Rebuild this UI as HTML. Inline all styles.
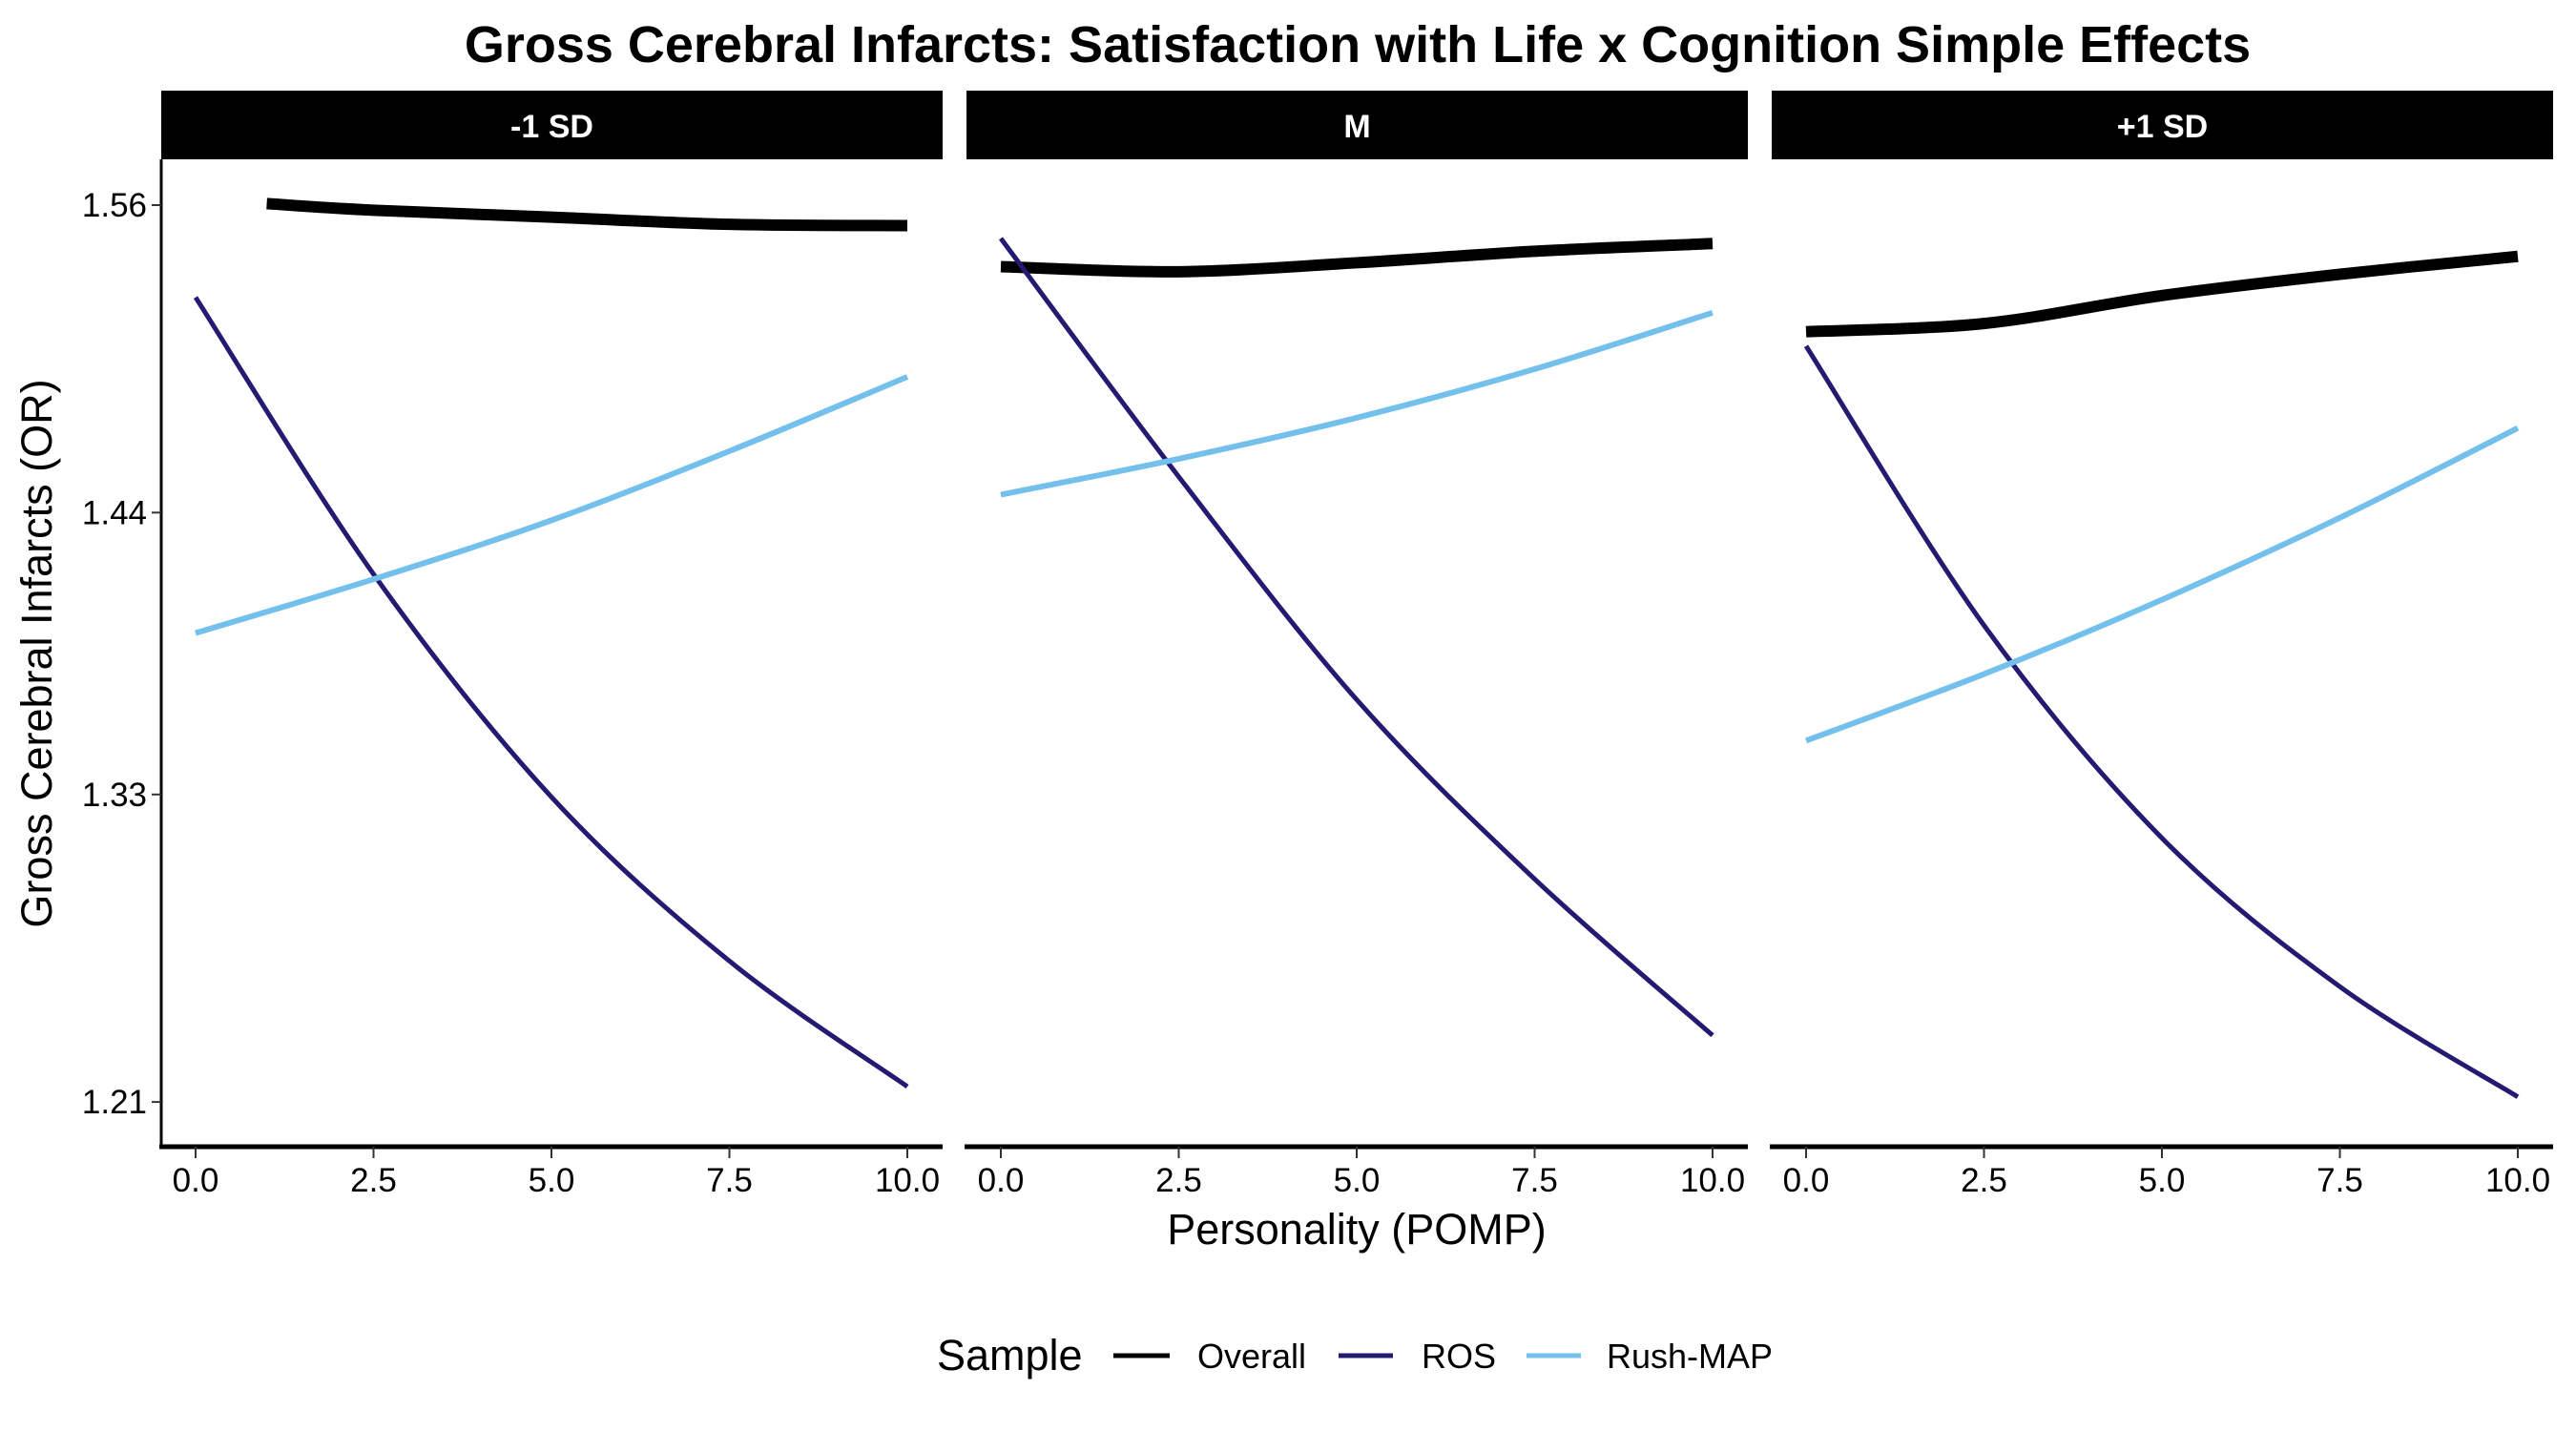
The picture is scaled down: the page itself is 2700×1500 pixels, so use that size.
<!DOCTYPE html>
<html><head><meta charset="utf-8"><style>
body{margin:0;background:#fff}
svg{display:block;font-family:"Liberation Sans",Arial,sans-serif}
</style></head><body>
<svg id="chart" width="2700" height="1500" viewBox="0 0 2700 1500">
<text x="1423" y="65" text-anchor="middle" font-size="54" font-weight="bold">Gross Cerebral Infarcts: Satisfaction with Life x Cognition Simple Effects</text>
<text transform="translate(54,685) rotate(-90)" text-anchor="middle" font-size="45">Gross Cerebral Infarcts (OR)</text>
<text x="1422" y="1304" text-anchor="middle" font-size="45">Personality (POMP)</text>
<g>
<text x="982" y="1436" font-size="45">Sample</text>
<line x1="1167" y1="1421" x2="1226" y2="1421" stroke="#000" stroke-width="5"/>
<text x="1255" y="1434" font-size="36">Overall</text>
<line x1="1403" y1="1421" x2="1460" y2="1421" stroke="#231a72" stroke-width="5"/>
<text x="1490" y="1434" font-size="36">ROS</text>
<line x1="1600" y1="1421" x2="1657" y2="1421" stroke="#74c0ec" stroke-width="5"/>
<text x="1684" y="1434" font-size="36">Rush-MAP</text>
</g>
<g id="panels"></g>
</svg>
<script>
const panelLabels = ["-1 SD", "M", "+1 SD"];
const xTicks = [0, 2.5, 5, 7.5, 10];
const xTickLabels = ["0.0", "2.5", "5.0", "7.5", "10.0"];
const yTicks = [1.21, 1.33, 1.44, 1.56];
const yTickLabels = ["1.21", "1.33", "1.44", "1.56"];
const overallX = [[1, 2.5, 5, 7.5, 10], [0, 2.5, 5, 7.5, 10], [0, 2.5, 5, 7.5, 10]];
const overallY = [[1.5606, 1.558, 1.5553, 1.5525, 1.552], [1.536, 1.534, 1.5375, 1.542, 1.545], [1.5106, 1.5138, 1.5247, 1.533, 1.540]];
const rosX = [0, 2.5, 5, 7.5, 10];
const rosY = [[1.524, 1.416, 1.329, 1.265, 1.216], [1.547, 1.454, 1.367, 1.297, 1.236], [1.505, 1.396, 1.313, 1.255, 1.212]];
const rushX = [0, 2.5, 5, 7.5, 10];
const rushY = [[1.393, 1.414, 1.437, 1.464, 1.493], [1.447, 1.461, 1.477, 1.496, 1.518], [1.351, 1.377, 1.406, 1.438, 1.473]];

const NS = "http://www.w3.org/2000/svg";
const panelLeft = [169, 1013, 1857];
const panelW = 819, plotTop = 167, plotBot = 1202;
function xs(p, v) { return panelLeft[p] + 36 + v * 74.6; }
function ys(v) { return 215 + (1.56 - v) * 2686; }
function mk(tag, attrs, parent) { const e = document.createElementNS(NS, tag); for (const k in attrs) e.setAttribute(k, attrs[k]); parent.appendChild(e); return e; }
function smooth(pts) {
  let d = "M" + pts[0][0] + "," + pts[0][1];
  for (let i = 0; i < pts.length - 1; i++) {
    const p0 = pts[Math.max(0, i - 1)], p1 = pts[i], p2 = pts[i + 1], p3 = pts[Math.min(pts.length - 1, i + 2)];
    const c1 = [p1[0] + (p2[0] - p0[0]) / 6, p1[1] + (p2[1] - p0[1]) / 6];
    const c2 = [p2[0] - (p3[0] - p1[0]) / 6, p2[1] - (p3[1] - p1[1]) / 6];
    d += " C" + c1[0] + "," + c1[1] + " " + c2[0] + "," + c2[1] + " " + p2[0] + "," + p2[1];
  }
  return d;
}
const root = document.getElementById("panels");
for (let p = 0; p < 3; p++) {
  const g = mk("g", {}, root);
  
  
  const L = panelLeft[p];
  const strip = mk("rect", { x: L, y: 95, width: panelW, height: 72, fill: "#000" }, g);
  
  
  const st = mk("text", { x: L + panelW / 2, y: 144, "text-anchor": "middle", "font-size": 34, "font-weight": "bold", fill: "#fff" }, g);
  st.textContent = panelLabels[p];
  
  
  const xa = mk("line", { x1: L - 2, y1: plotBot, x2: L + panelW, y2: plotBot, stroke: "#000", "stroke-width": 5 }, g);
  
  
  xTicks.forEach((t, i) => {
    const tk = mk("line", { x1: xs(p, t), y1: plotBot, x2: xs(p, t), y2: plotBot + 12, stroke: "#333", "stroke-width": 2 }, g);
    
    
    const tl = mk("text", { x: xs(p, t), y: 1249, "text-anchor": "middle", "font-size": 35, fill: "#000" }, g);
    tl.textContent = xTickLabels[i];
    
    
  });
  if (p === 0) {
    const ya = mk("line", { x1: L, y1: plotTop, x2: L, y2: plotBot, stroke: "#000", "stroke-width": 3 }, g);
    
    
    yTicks.forEach((t, i) => {
      const tk = mk("line", { x1: L - 10, y1: ys(t), x2: L, y2: ys(t), stroke: "#333", "stroke-width": 2 }, g);
      
      
      const tl = mk("text", { x: L - 15, y: ys(t) + 12, "text-anchor": "end", "font-size": 35, fill: "#000" }, g);
      tl.textContent = yTickLabels[i];
      
      
    });
  }
  const ov = mk("path", { d: smooth(overallX[p].map((x, i) => [xs(p, x), ys(overallY[p][i])])), fill: "none", stroke: "#000", "stroke-width": 12 }, g);
  
  
  const ro = mk("path", { d: smooth(rosX.map((x, i) => [xs(p, x), ys(rosY[p][i])])), fill: "none", stroke: "#231a72", "stroke-width": 5 }, g);
  
  
  const ru = mk("path", { d: smooth(rushX.map((x, i) => [xs(p, x), ys(rushY[p][i])])), fill: "none", stroke: "#74c0ec", "stroke-width": 6 }, g);
  
  
}
</script>
</body></html>
